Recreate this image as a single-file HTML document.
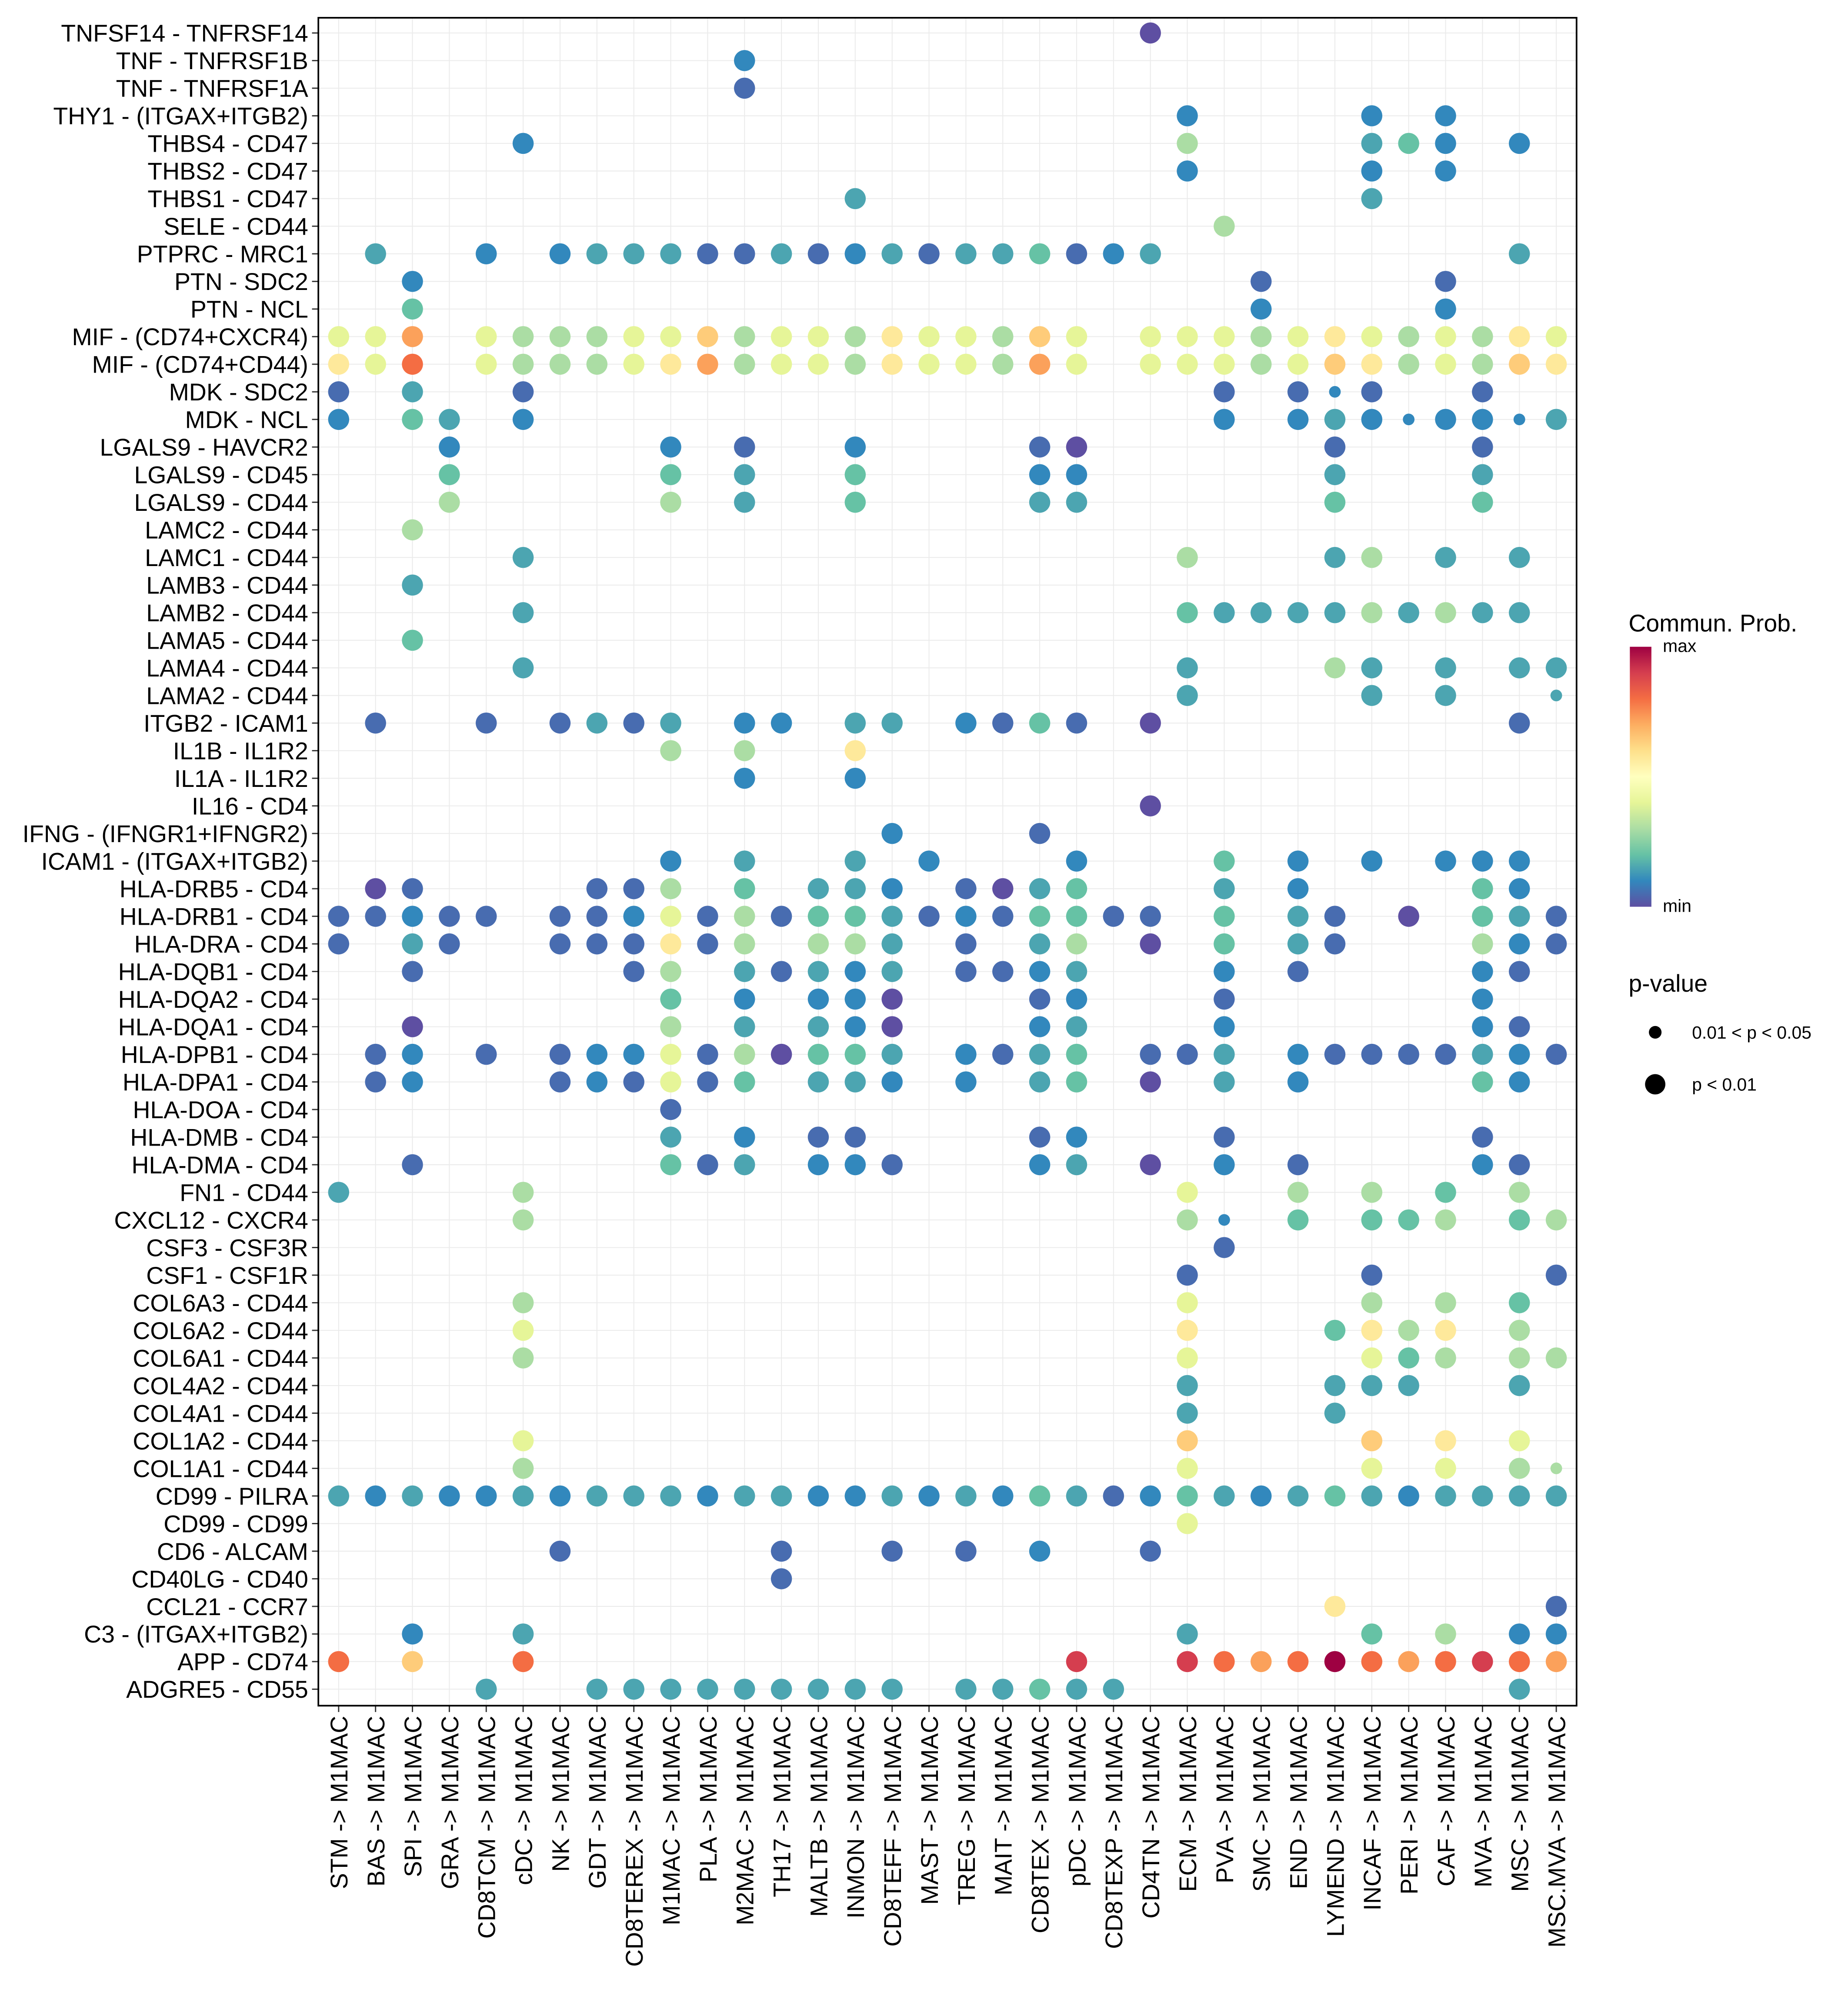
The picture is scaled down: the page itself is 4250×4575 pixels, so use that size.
<!DOCTYPE html>
<html><head><meta charset="utf-8"><style>
html,body{margin:0;padding:0;background:#fff;}
svg{display:block;font-family:"Liberation Sans",sans-serif;}
</style></head><body>
<svg id="chart" width="4250" height="4575" viewBox="0 0 1457 1568.4" xmlns="http://www.w3.org/2000/svg">
<defs>
<linearGradient id="cbar" x1="0" y1="1" x2="0" y2="0">
<stop offset="0" stop-color="#5E4FA2"/><stop offset="0.1" stop-color="#3288BD"/><stop offset="0.2" stop-color="#66C2A5"/><stop offset="0.3" stop-color="#ABDDA4"/><stop offset="0.4" stop-color="#E6F598"/><stop offset="0.5" stop-color="#FFFFBF"/><stop offset="0.6" stop-color="#FEE08B"/><stop offset="0.7" stop-color="#FDAE61"/><stop offset="0.8" stop-color="#F46D43"/><stop offset="0.9" stop-color="#D53E4F"/><stop offset="1" stop-color="#9E0142"/>
</linearGradient>
</defs>
<g id="grid"></g>
<g id="dots"></g>
<g id="yaxis"></g>
<g id="xaxis"></g>
<rect x="251" y="14" width="992" height="1331" fill="none" stroke="#000" stroke-width="1.3"/>
<g>
<text x="1284" y="498" font-size="19">Commun. Prob.</text>
<rect x="1285" y="510" width="17" height="205" fill="url(#cbar)"/>
<text x="1311" y="514" font-size="14">max</text>
<text x="1311" y="719" font-size="14">min</text>
</g>
<g>
<text x="1284" y="782" font-size="19">p-value</text>
<circle cx="1305" cy="814" r="5" fill="#000"/>
<text x="1334" y="819" font-size="14">0.01 &lt; p &lt; 0.05</text>
<circle cx="1305" cy="855" r="8" fill="#000"/>
<text x="1334" y="860" font-size="14">p &lt; 0.01</text>
</g>
</svg>
<script>
const columns = ["STM","BAS","SPI","GRA","CD8TCM","cDC","NK","GDT","CD8TEREX","M1MAC","PLA","M2MAC","TH17","MALTB","INMON","CD8TEFF","MAST","TREG","MAIT","CD8TEX","pDC","CD8TEXP","CD4TN","ECM","PVA","SMC","END","LYMEND","INCAF","PERI","CAF","MVA","MSC","MSC.MVA"];
const rowLabels = ["TNFSF14 - TNFRSF14","TNF - TNFRSF1B","TNF - TNFRSF1A","THY1 - (ITGAX+ITGB2)","THBS4 - CD47","THBS2 - CD47","THBS1 - CD47","SELE - CD44","PTPRC - MRC1","PTN - SDC2","PTN - NCL","MIF - (CD74+CXCR4)","MIF - (CD74+CD44)","MDK - SDC2","MDK - NCL","LGALS9 - HAVCR2","LGALS9 - CD45","LGALS9 - CD44","LAMC2 - CD44","LAMC1 - CD44","LAMB3 - CD44","LAMB2 - CD44","LAMA5 - CD44","LAMA4 - CD44","LAMA2 - CD44","ITGB2 - ICAM1","IL1B - IL1R2","IL1A - IL1R2","IL16 - CD4","IFNG - (IFNGR1+IFNGR2)","ICAM1 - (ITGAX+ITGB2)","HLA-DRB5 - CD4","HLA-DRB1 - CD4","HLA-DRA - CD4","HLA-DQB1 - CD4","HLA-DQA2 - CD4","HLA-DQA1 - CD4","HLA-DPB1 - CD4","HLA-DPA1 - CD4","HLA-DOA - CD4","HLA-DMB - CD4","HLA-DMA - CD4","FN1 - CD44","CXCL12 - CXCR4","CSF3 - CSF3R","CSF1 - CSF1R","COL6A3 - CD44","COL6A2 - CD44","COL6A1 - CD44","COL4A2 - CD44","COL4A1 - CD44","COL1A2 - CD44","COL1A1 - CD44","CD99 - PILRA","CD99 - CD99","CD6 - ALCAM","CD40LG - CD40","CCL21 - CCR7","C3 - (ITGAX+ITGB2)","APP - CD74","ADGRE5 - CD55"];
// level codes: 0..9,A,B,C -> commun. prob. (0=min,C=max); "s" suffix = 0.01<p<0.05
const rowValues = [
"CD4TN:0",
"M2MAC:2",
"M2MAC:1",
"ECM:2 INCAF:2 CAF:2",
"cDC:2 ECM:5 INCAF:3 PERI:4 CAF:2 MSC:2",
"ECM:2 INCAF:2 CAF:2",
"INMON:3 INCAF:3",
"PVA:5",
"BAS:3 CD8TCM:2 NK:2 GDT:3 CD8TEREX:3 M1MAC:3 PLA:1 M2MAC:1 TH17:3 MALTB:1 INMON:2 CD8TEFF:3 MAST:1 TREG:3 MAIT:3 CD8TEX:4 pDC:1 CD8TEXP:2 CD4TN:3 MSC:3",
"SPI:2 SMC:1 CAF:1",
"SPI:4 SMC:2 CAF:2",
"STM:6 BAS:6 SPI:9 CD8TCM:6 cDC:5 NK:5 GDT:5 CD8TEREX:6 M1MAC:6 PLA:8 M2MAC:5 TH17:6 MALTB:6 INMON:5 CD8TEFF:7 MAST:6 TREG:6 MAIT:5 CD8TEX:8 pDC:6 CD4TN:6 ECM:6 PVA:6 SMC:5 END:6 LYMEND:7 INCAF:6 PERI:5 CAF:6 MVA:5 MSC:7 MSC.MVA:6",
"STM:7 BAS:6 SPI:A CD8TCM:6 cDC:5 NK:5 GDT:5 CD8TEREX:6 M1MAC:7 PLA:9 M2MAC:5 TH17:6 MALTB:6 INMON:5 CD8TEFF:7 MAST:6 TREG:6 MAIT:5 CD8TEX:9 pDC:6 CD4TN:6 ECM:6 PVA:6 SMC:5 END:6 LYMEND:8 INCAF:7 PERI:5 CAF:6 MVA:5 MSC:8 MSC.MVA:7",
"STM:1 SPI:3 cDC:1 PVA:1 END:1 LYMEND:2s INCAF:1 MVA:1",
"STM:2 SPI:4 GRA:3 cDC:2 PVA:2 END:2 LYMEND:3 INCAF:2 PERI:2s CAF:2 MVA:2 MSC:2s MSC.MVA:3",
"GRA:2 M1MAC:2 M2MAC:1 INMON:2 CD8TEX:1 pDC:0 LYMEND:1 MVA:1",
"GRA:4 M1MAC:4 M2MAC:3 INMON:4 CD8TEX:2 pDC:2 LYMEND:3 MVA:3",
"GRA:5 M1MAC:5 M2MAC:3 INMON:4 CD8TEX:3 pDC:3 LYMEND:4 MVA:4",
"SPI:5",
"cDC:3 ECM:5 LYMEND:3 INCAF:5 CAF:3 MSC:3",
"SPI:3",
"cDC:3 ECM:4 PVA:3 SMC:3 END:3 LYMEND:3 INCAF:5 PERI:3 CAF:5 MVA:3 MSC:3",
"SPI:4",
"cDC:3 ECM:3 LYMEND:5 INCAF:3 CAF:3 MSC:3 MSC.MVA:3",
"ECM:3 INCAF:3 CAF:3 MSC.MVA:3s",
"BAS:1 CD8TCM:1 NK:1 GDT:3 CD8TEREX:1 M1MAC:3 M2MAC:2 TH17:2 INMON:3 CD8TEFF:3 TREG:2 MAIT:1 CD8TEX:4 pDC:1 CD4TN:0 MSC:1",
"M1MAC:5 M2MAC:5 INMON:7",
"M2MAC:2 INMON:2",
"CD4TN:0",
"CD8TEFF:2 CD8TEX:1",
"M1MAC:2 M2MAC:3 INMON:3 MAST:2 pDC:2 PVA:4 END:2 INCAF:2 CAF:2 MVA:2 MSC:2",
"BAS:0 SPI:1 GDT:1 CD8TEREX:1 M1MAC:5 M2MAC:4 MALTB:3 INMON:3 CD8TEFF:2 TREG:1 MAIT:0 CD8TEX:3 pDC:4 PVA:3 END:2 MVA:4 MSC:2",
"STM:1 BAS:1 SPI:2 GRA:1 CD8TCM:1 NK:1 GDT:1 CD8TEREX:2 M1MAC:6 PLA:1 M2MAC:5 TH17:1 MALTB:4 INMON:4 CD8TEFF:3 MAST:1 TREG:2 MAIT:1 CD8TEX:4 pDC:4 CD8TEXP:1 CD4TN:1 PVA:4 END:3 LYMEND:1 PERI:0 MVA:4 MSC:3 MSC.MVA:1",
"STM:1 SPI:3 GRA:1 NK:1 GDT:1 CD8TEREX:1 M1MAC:7 PLA:1 M2MAC:5 MALTB:5 INMON:5 CD8TEFF:3 TREG:1 CD8TEX:3 pDC:5 CD4TN:0 PVA:4 END:3 LYMEND:1 MVA:5 MSC:2 MSC.MVA:1",
"SPI:1 CD8TEREX:1 M1MAC:5 M2MAC:3 TH17:1 MALTB:3 INMON:2 CD8TEFF:3 TREG:1 MAIT:1 CD8TEX:2 pDC:3 PVA:2 END:1 MVA:2 MSC:1",
"M1MAC:4 M2MAC:2 MALTB:2 INMON:2 CD8TEFF:0 CD8TEX:1 pDC:2 PVA:1 MVA:2",
"SPI:0 M1MAC:5 M2MAC:3 MALTB:3 INMON:2 CD8TEFF:0 CD8TEX:2 pDC:3 PVA:2 MVA:2 MSC:1",
"BAS:1 SPI:2 CD8TCM:1 NK:1 GDT:2 CD8TEREX:2 M1MAC:6 PLA:1 M2MAC:5 TH17:0 MALTB:4 INMON:4 CD8TEFF:3 TREG:2 MAIT:1 CD8TEX:3 pDC:4 CD4TN:1 ECM:1 PVA:3 END:2 LYMEND:1 INCAF:1 PERI:1 CAF:1 MVA:3 MSC:2 MSC.MVA:1",
"BAS:1 SPI:2 NK:1 GDT:2 CD8TEREX:1 M1MAC:6 PLA:1 M2MAC:4 MALTB:3 INMON:3 CD8TEFF:2 TREG:2 CD8TEX:3 pDC:4 CD4TN:0 PVA:3 END:2 MVA:4 MSC:2",
"M1MAC:1",
"M1MAC:3 M2MAC:2 MALTB:1 INMON:1 CD8TEX:1 pDC:2 PVA:1 MVA:1",
"SPI:1 M1MAC:4 PLA:1 M2MAC:3 MALTB:2 INMON:2 CD8TEFF:1 CD8TEX:2 pDC:3 CD4TN:0 PVA:2 END:1 MVA:2 MSC:1",
"STM:3 cDC:5 ECM:6 END:5 INCAF:5 CAF:4 MSC:5",
"cDC:5 ECM:5 PVA:2s END:4 INCAF:4 PERI:4 CAF:5 MSC:4 MSC.MVA:5",
"PVA:1",
"ECM:1 INCAF:1 MSC.MVA:1",
"cDC:5 ECM:6 INCAF:5 CAF:5 MSC:4",
"cDC:6 ECM:7 LYMEND:4 INCAF:7 PERI:5 CAF:7 MSC:5",
"cDC:5 ECM:6 INCAF:6 PERI:4 CAF:5 MSC:5 MSC.MVA:5",
"ECM:3 LYMEND:3 INCAF:3 PERI:3 MSC:3",
"ECM:3 LYMEND:3",
"cDC:6 ECM:8 INCAF:8 CAF:7 MSC:6",
"cDC:5 ECM:6 INCAF:6 CAF:6 MSC:5 MSC.MVA:5s",
"STM:3 BAS:2 SPI:3 GRA:2 CD8TCM:2 cDC:3 NK:2 GDT:3 CD8TEREX:3 M1MAC:3 PLA:2 M2MAC:3 TH17:3 MALTB:2 INMON:2 CD8TEFF:3 MAST:2 TREG:3 MAIT:2 CD8TEX:4 pDC:3 CD8TEXP:1 CD4TN:2 ECM:4 PVA:3 SMC:2 END:3 LYMEND:4 INCAF:3 PERI:2 CAF:3 MVA:3 MSC:3 MSC.MVA:3",
"ECM:6",
"NK:1 TH17:1 CD8TEFF:1 TREG:1 CD8TEX:2 CD4TN:1",
"TH17:1",
"LYMEND:7 MSC.MVA:1",
"SPI:2 cDC:3 ECM:3 INCAF:4 CAF:5 MSC:2 MSC.MVA:2",
"STM:A SPI:8 cDC:A pDC:B ECM:B PVA:A SMC:9 END:A LYMEND:C INCAF:A PERI:9 CAF:A MVA:B MSC:A MSC.MVA:9",
"CD8TCM:3 GDT:3 CD8TEREX:3 M1MAC:3 PLA:3 M2MAC:3 TH17:3 MALTB:3 INMON:3 CD8TEFF:3 TREG:3 MAIT:3 CD8TEX:4 pDC:3 CD8TEXP:3 MSC:3"
];
const levelValues = {"0":0,"1":0.05,"2":0.1,"3":0.15,"4":0.2,"5":0.3,"6":0.4,"7":0.57,"8":0.64,"9":0.72,"A":0.8,"B":0.9,"C":1.0};

const NS="http://www.w3.org/2000/svg";
const X0=267, XSTEP=(1227-267)/33, Y0=26, YSTEP=(1332-26)/60;
function xScale(i){return X0+i*XSTEP;}
function yScale(i){return Y0+i*YSTEP;}
const pal=["#5E4FA2","#3288BD","#66C2A5","#ABDDA4","#E6F598","#FFFFBF","#FEE08B","#FDAE61","#F46D43","#D53E4F","#9E0142"];
function hex(h){return [parseInt(h.slice(1,3),16),parseInt(h.slice(3,5),16),parseInt(h.slice(5,7),16)];}
function colorScale(v){
  const t=Math.max(0,Math.min(1,v))*(pal.length-1);const i=Math.min(Math.floor(t),pal.length-2);const f=t-i;
  const a=hex(pal[i]),b=hex(pal[i+1]);
  return "rgb("+a.map((c,k)=>Math.round(c+(b[k]-c)*f)).join(",")+")";
}
function mk(tag,attrs){const e=document.createElementNS(NS,tag);for(const k in attrs)e.setAttribute(k,attrs[k]);return e;}
const grid=document.getElementById("grid"),dots=document.getElementById("dots"),ya=document.getElementById("yaxis"),xa=document.getElementById("xaxis");
columns.forEach((c,i)=>{
  const l=mk("line",{x1:xScale(i),x2:xScale(i),y1:14,y2:1345,stroke:"#ebebeb","stroke-width":0.7});
  
  
  grid.appendChild(l);
  const t=mk("line",{x1:xScale(i),x2:xScale(i),y1:1345,y2:1350,stroke:"#333","stroke-width":1});
  
  
  xa.appendChild(t);
  const tx=mk("text",{x:0,y:0,"font-size":19,"text-anchor":"end",transform:"translate("+(xScale(i)+7)+",1353) rotate(-90)"});
  tx.textContent=c+" -> M1MAC";
  
  
  xa.appendChild(tx);
});
rowLabels.forEach((r,i)=>{
  const l=mk("line",{x1:251,x2:1243,y1:yScale(i),y2:yScale(i),stroke:"#ebebeb","stroke-width":0.7});
  
  
  grid.appendChild(l);
  const t=mk("line",{x1:246,x2:251,y1:yScale(i),y2:yScale(i),stroke:"#333","stroke-width":1});
  
  
  ya.appendChild(t);
  const tx=mk("text",{x:243,y:yScale(i)+6.8,"font-size":19,"text-anchor":"end"});
  tx.textContent=r;
  
  
  ya.appendChild(tx);
});
rowValues.forEach((s,ri)=>{
  if(!s)return;
  s.split(" ").forEach(p=>{
    const k=p.lastIndexOf(":");const col=p.slice(0,k);let code=p.slice(k+1);
    const small=code.endsWith("s");if(small)code=code.slice(0,-1);
    const ci=columns.indexOf(col);if(ci<0)return;
    const c=mk("circle",{cx:xScale(ci),cy:yScale(ri),r:small?4.6:8.3,fill:colorScale(levelValues[code])});
    
    
    dots.appendChild(c);
  });
});
</script>
</body></html>
